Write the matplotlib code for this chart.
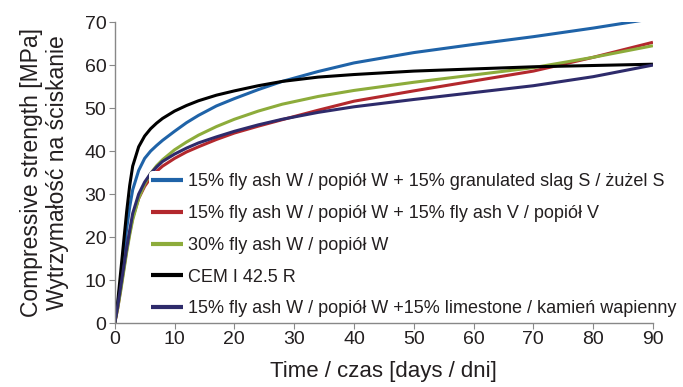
import matplotlib
matplotlib.use('Agg')
import matplotlib.pyplot as plt
import numpy as np

plt.rcParams['font.family'] = ['Liberation Sans', 'DejaVu Sans']

# Strength development
days = [0, 0.5, 1, 1.5, 2, 2.5, 3, 4, 5, 6, 7, 8, 10, 12, 14, 17, 20, 24, 28, 34, 40, 50, 60, 70, 80, 90]
slag = [0, 4.5, 10, 16, 22, 27, 31, 35.5, 38.3, 40, 41.3, 42.5, 44.6, 46.6, 48.3, 50.5, 52.2,
        54.3, 56.2, 58.5, 60.5, 62.9, 64.8, 66.6, 68.6, 70.8]
ash_v = [0, 3.5, 8, 12.5, 17, 21, 24.5, 29, 31.8, 33.8, 35.3, 36.5, 38.3, 39.8, 41, 42.7, 44.2,
         45.8, 47.3, 49.5, 51.6, 54, 56.3, 58.6, 61.8, 65.3]
ash_30 = [0, 3.5, 7.5, 12, 16.5, 20.5, 24, 29, 32.3, 34.8, 36.6, 38, 40.3, 42.1, 43.7, 45.7, 47.4,
          49.3, 50.9, 52.7, 54.1, 56, 57.7, 59.4, 61.8, 64.5]
cem = [0, 5, 12, 19, 26, 32, 36.5, 41, 43.5, 45.2, 46.5, 47.6, 49.3, 50.6, 51.7, 53, 54,
       55.2, 56.2, 57.2, 57.8, 58.6, 59.1, 59.6, 59.9, 60.2]
limestone = [0, 4, 8.5, 13, 17.5, 21.5, 25.5, 30, 32.8, 34.8, 36.3, 37.6, 39.3, 40.7, 41.9, 43.3,
             44.6, 46.1, 47.4, 49, 50.3, 52, 53.6, 55.2, 57.3, 60]

labels = [
    '15% fly ash W / popiół W + 15% granulated slag S / żużel S',
    '15% fly ash W / popiół W + 15% fly ash V / popiół V',
    '30% fly ash W / popiół W',
    'CEM I 42.5 R',
    '15% fly ash W / popiół W +15% limestone / kamień wapienny',
]
colors = ['#1f63a8', '#b3282d', '#8dac3b', '#000000', '#2e2b6b']
series = [slag, ash_v, ash_30, cem, limestone]
xticks = np.arange(0, 91, 10)
yticks = np.arange(0, 71, 10)

text_color = '#231f20'

fig = plt.figure(figsize=(6.83, 3.87), dpi=100)
ax = fig.add_axes([0.168, 0.165, 0.788, 0.778])

for vals, col, lab in zip(series, colors, labels):
    ax.plot(days, vals, color=col, lw=2.2, label=lab, solid_capstyle='butt')

ax.set_xlim(0, 90)
ax.set_ylim(0, 70)
ax.set_xticks(xticks)
ax.set_yticks(yticks)
ax.spines['top'].set_visible(False)
ax.spines['right'].set_visible(False)
for s in ['left', 'bottom']:
    ax.spines[s].set_color('#888888')
    ax.spines[s].set_linewidth(1.0)
ax.tick_params(axis='both', direction='out', length=4, color='#888888',
               labelsize=14, labelcolor=text_color, pad=2)

ax.set_xlabel('Time / czas [days / dni]', fontsize=16, color=text_color, labelpad=9)
ax.set_ylabel('Compressive strength [MPa]\nWytrzymałość na ściskanie', fontsize=16.5,
              color=text_color, labelpad=11, linespacing=1.2)

leg = ax.legend(loc='lower left', bbox_to_anchor=(0.218, 0.175), bbox_transform=fig.transFigure,
                frameon=True, fontsize=13, handlelength=1.8, handletextpad=0.25,
                labelspacing=0.82, borderpad=0.1, borderaxespad=0)
leg.get_frame().set_facecolor('white')
leg.get_frame().set_edgecolor('none')
leg.get_frame().set_alpha(1.0)
for t in leg.get_texts():
    t.set_color(text_color)
for h in leg.get_lines():
    h.set_linewidth(3)

fig.savefig('out.png', dpi=100)
